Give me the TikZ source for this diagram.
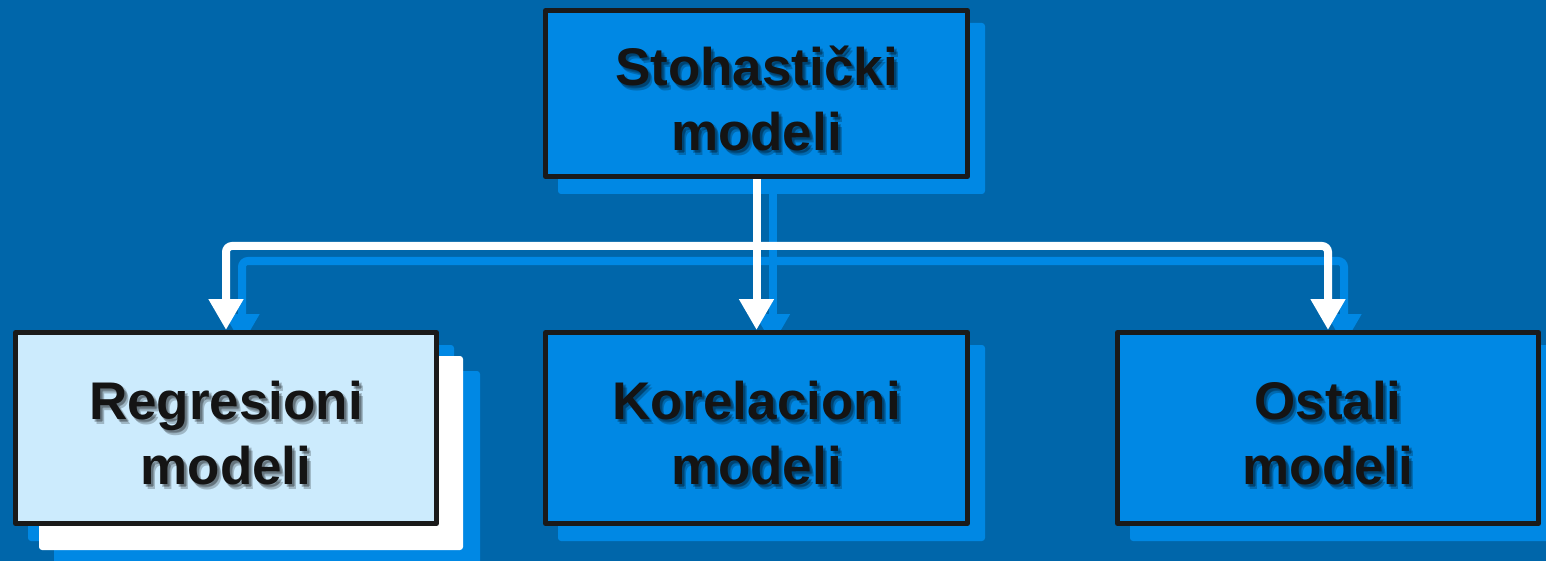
\documentclass[tikz,border=0pt]{standalone}
\usepackage{fontspec}
\setmainfont{Liberation Sans}
\usetikzlibrary{arrows.meta,calc}

\definecolor{bgblue}{RGB}{0,102,170}
\definecolor{boxblue}{RGB}{0,136,228}
\definecolor{paleblue}{RGB}{204,235,253}
\definecolor{ink}{RGB}{20,20,20}
\definecolor{rim}{RGB}{26,26,26}

\pgfdeclarelayer{backdrop}
\pgfdeclarelayer{shadows}
\pgfdeclarelayer{wires}
\pgfsetlayers{backdrop,shadows,wires,main}

\tikzset{
  modelbox/.style={draw=rim, line width=5pt, fill=boxblue, inner sep=0pt,
    line join=round, minimum width=421pt, minimum height=191pt},
  palebox/.style={fill=paleblue},
  boxtext/.style={align=center, inner sep=0pt, text=ink,
    font=\bfseries\fontsize{53}{65}\selectfont},
  textshade/.style={boxtext, text=black, text opacity=#1},
  boxshade/.style={fill=#1, rounded corners=3pt},
  wire/.style={draw=white, line width=8pt, rounded corners=6pt,
    -{Triangle[width=33pt,length=31pt]}},
  wireshade/.style={wire, draw=boxblue,
    transform canvas={xshift=16pt,yshift=-15pt}},
}

% a box with its two-line caption; the caption casts a soft shadow
\newcommand\modelnode[4]{%
  \node[modelbox,#3] (#1) at (#2) {};
  \node[textshade=0.22] (#1-shadeA) at ([shift={(4,10)}]#1.center) {#4};
  \node[textshade=0.22] (#1-shadeB) at ([shift={(2,8)}]#1.center) {#4};
  \node[textshade=0.18] (#1-shadeC) at ([shift={(3,7)}]#1.center) {#4};
  \node[boxtext] (#1-text) at ([shift={(0,5)}]#1.center) {#4};
}

\begin{document}
\begin{tikzpicture}[x=1pt,y=-1pt]
  \useasboundingbox (0,0) rectangle (1546,561);
  \begin{pgfonlayer}{backdrop}
    \fill[bgblue] (0,0) rectangle (1546,561);
  \end{pgfonlayer}

  \modelnode{top}{756.5,93.5}{minimum width=422pt, minimum height=166pt}{Stohastički\\modeli}
  \modelnode{reg}{226,428}{palebox}{Regresioni\\modeli}
  \modelnode{kor}{756.5,428}{minimum width=422pt}{Korelacioni\\modeli}
  \modelnode{ost}{1328,428}{}{Ostali\\modeli}

  \begin{pgfonlayer}{shadows}
    \foreach \b in {top,kor,ost}
      \fill[boxshade=boxblue] ([shift={(15,15)}]\b.north west) rectangle ([shift={(15,15)}]\b.south east);
    % the highlighted box sits on a white card with its own shadow
    \fill[boxshade=boxblue] ([shift={(41,41)}]reg.north west) rectangle ([shift={(41,41)}]reg.south east);
    \fill[boxshade=boxblue] ([shift={(15,15)}]reg.north west) rectangle ([shift={(15,15)}]reg.south east);
    \fill[boxshade=white] ([shift={(26,26)}]reg.north west) rectangle ([shift={(24,24)}]reg.south east);
  \end{pgfonlayer}

  \coordinate (bus) at (top.south |- 0,246);

  \begin{pgfonlayer}{wires}
    \draw[wireshade] (top.south) -- (kor.north);
    \draw[wireshade] (bus) -| (reg.north);
    \draw[wireshade] (bus) -| (ost.north);
    \draw[wire] (top.south) -- (kor.north);
    \draw[wire] (bus) -| (reg.north);
    \draw[wire] (bus) -| (ost.north);
  \end{pgfonlayer}
\end{tikzpicture}
\end{document}
